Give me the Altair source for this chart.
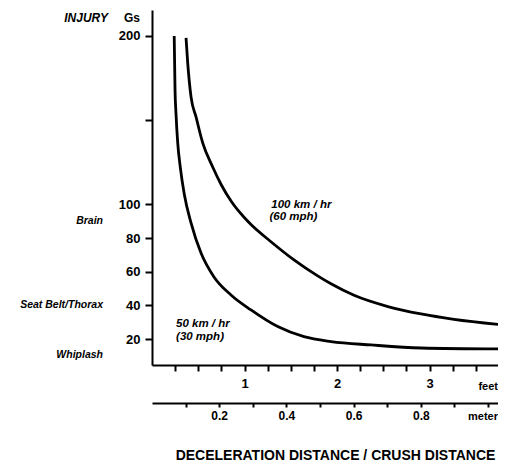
import altair as alt
import pandas as pd

# ---- data ----
low_ft = [0.24, 0.249, 0.259, 0.278, 0.306, 0.349, 0.422, 0.530, 0.670, 0.854, 1.070,
          1.359, 1.643, 1.935, 2.368, 2.908, 3.80]
low_g = [200, 167.9, 154.3, 136.5, 122.0, 106.0, 89.0, 71.1, 56.9, 46.2, 37.3,
         27.4, 21.4, 18.5, 16.5, 14.7, 14.1]
high_ft = [0.368, 0.386, 0.422, 0.476, 0.548, 0.656, 0.750, 0.860, 1.000, 1.070, 1.286,
           1.535, 1.791, 1.935, 2.184, 2.551, 2.908, 3.265, 3.80]
high_g = [198.8, 184.0, 163.8, 151.9, 136.5, 122.2, 111.5, 101.5, 92.0, 88.0, 77.8,
          67.0, 57.5, 52.8, 46.0, 39.3, 34.9, 31.7, 28.4]

y_ticks = [20, 40, 60, 80, 100, 150, 200]
y_unlabeled = [150]
feet_ticks = [0.25, 0.5, 0.75, 1, 1.25, 1.5, 1.75, 2, 2.25, 2.5, 2.75, 3, 3.25, 3.5]
meter_ticks = [0.1, 0.2, 0.3, 0.4, 0.5, 0.6, 0.7, 0.8, 0.9, 1.0]
meter_labels = [0.2, 0.4, 0.6, 0.8]

injury_names = ["Brain", "Seat Belt/Thorax", "Whiplash"]
injury_g = [90, 40, 10.5]

curve_text = ["100 km / hr", "(60 mph)", "50 km / hr", "(30 mph)"]
curve_text_ft = [1.29, 1.27, 0.26, 0.26]
curve_text_g = [99.7, 92.5, 28.7, 21.3]

W, H = 346, 355
FONT = "Liberation Sans"

curves = pd.DataFrame({
    "ft": low_ft + high_ft,
    "g": low_g + high_g,
    "speed": ["50"] * len(low_ft) + ["100"] * len(high_ft),
})

xs = alt.Scale(domain=[0, W / 92.5], nice=False, zero=False)
ys = alt.Scale(domain=[4.6, 215.4], nice=False, zero=False)

y_label_expr = "indexof(%s, datum.value) >= 0 ? '' : datum.label" % str(y_unlabeled)
feet_label_expr = "datum.value % 1 === 0 ? format(datum.value, 'd') : ''"
meter_label_expr = "indexof(%s, datum.value) >= 0 ? format(datum.value, '.1f') : ''" % str(meter_labels)

feet_axis = alt.Axis(
    orient="bottom", values=feet_ticks, labelExpr=feet_label_expr, title=None, grid=False,
    domainColor="black", domainWidth=2, tickColor="black", tickWidth=2, tickSize=6,
    labelFont=FONT, labelFontWeight="bold", labelFontSize=13, labelColor="black",
    labelPadding=6, labelFlush=False)
g_axis = alt.Axis(
    orient="left", values=y_ticks, labelExpr=y_label_expr, title=None, grid=False,
    domainColor="black", domainWidth=2, tickColor="black", tickWidth=2, tickSize=7,
    labelFont=FONT, labelFontWeight="bold", labelFontSize=13, labelColor="black",
    labelPadding=5)

lines = alt.Chart(curves).mark_line(
    color="black", strokeWidth=2.8, interpolate="monotone", clip=True
).encode(
    x=alt.X("ft:Q", scale=xs, axis=feet_axis),
    y=alt.Y("g:Q", scale=ys, axis=g_axis),
    detail="speed:N",
)

ctext = alt.Chart(pd.DataFrame({"t": curve_text, "ft": curve_text_ft, "g": curve_text_g})).mark_text(
    align="left", baseline="middle", font=FONT, fontStyle="italic", fontWeight="bold",
    fontSize=11.5, color="black"
).encode(x=alt.X("ft:Q", scale=xs, axis=feet_axis), y=alt.Y("g:Q", scale=ys, axis=g_axis),
         text="t:N")

inj = alt.Chart(pd.DataFrame({"t": injury_names, "g": injury_g})).mark_text(
    align="right", baseline="middle", font=FONT, fontStyle="italic", fontWeight="bold",
    fontSize=10.5, color="black"
).encode(x=alt.value(-49), y=alt.Y("g:Q", scale=ys, axis=g_axis), text="t:N")

head_inj = alt.Chart(pd.DataFrame({"t": ["INJURY"]})).mark_text(
    align="right", baseline="middle", font=FONT, fontWeight="bold", fontStyle="italic",
    fontSize=12, color="black"
).encode(x=alt.value(-44), y=alt.value(8), text="t:N")
head_gs = alt.Chart(pd.DataFrame({"t": ["Gs"]})).mark_text(
    align="right", baseline="middle", font=FONT, fontWeight="bold",
    fontSize=12, color="black"
).encode(x=alt.value(-12), y=alt.value(8), text="t:N")

unit_feet = alt.Chart(pd.DataFrame({"t": ["feet"]})).mark_text(
    align="right", baseline="middle", font=FONT, fontWeight="bold",
    fontSize=11, color="black"
).encode(x=alt.value(W), y=alt.value(H + 22), text="t:N")
unit_meter = alt.Chart(pd.DataFrame({"t": ["meter"]})).mark_text(
    align="right", baseline="middle", font=FONT, fontWeight="bold",
    fontSize=11, color="black"
).encode(x=alt.value(W), y=alt.value(H + 52), text="t:N")

main = alt.layer(lines, ctext, inj, head_inj, head_gs, unit_feet, unit_meter)

meters = alt.Chart(pd.DataFrame({"m": meter_ticks})).mark_point(opacity=0).encode(
    x=alt.X("m:Q", scale=alt.Scale(domain=[0, W / 336], nice=False, zero=False),
            axis=alt.Axis(
                orient="bottom", offset=38, values=meter_ticks, labelExpr=meter_label_expr,
                title="DECELERATION DISTANCE / CRUSH DISTANCE", grid=False,
                domainColor="black", domainWidth=2, tickColor="black", tickWidth=2, tickSize=4,
                labelFont=FONT, labelFontWeight="bold", labelFontSize=12, labelColor="black",
                labelPadding=3, labelFlush=False,
                titleFont=FONT, titleFontWeight="bold", titleFontSize=14, titleColor="black",
                titleX=183, titlePadding=27)),
    y=alt.value(0),
)

chart = alt.layer(main, meters).resolve_scale(
    x="independent"
).properties(
    width=W, height=H,
    autosize=alt.AutoSizeParams(type="none"),
    padding={"left": 144, "top": 2, "right": 0, "bottom": 98},
).configure(background="white").configure_view(strokeWidth=0, stroke="transparent")

chart.save("out.html", embed_options={"renderer": "svg", "actions": False})
